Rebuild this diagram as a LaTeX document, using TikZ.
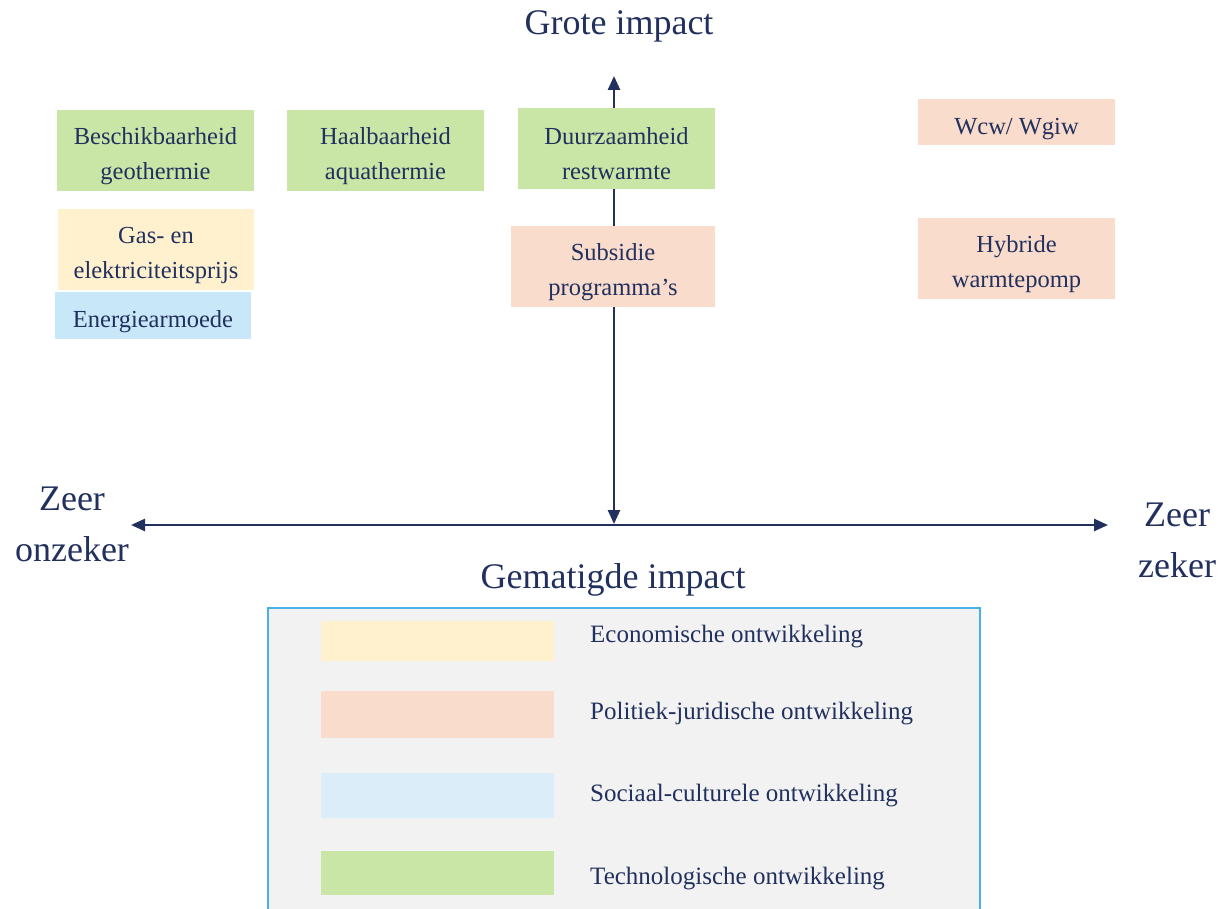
\documentclass[tikz,border=0pt]{standalone}
\usepackage{fontspec}
\setmainfont{Liberation Serif}
\usetikzlibrary{arrows.meta}
\definecolor{navy}{HTML}{22305E}
\definecolor{techgreen}{HTML}{C9E6A7}
\definecolor{econyellow}{HTML}{FFF1CE}
\definecolor{polsalmon}{HTML}{F9DCCC}
\definecolor{socblue}{HTML}{C8E7F8}
\definecolor{legblue}{HTML}{DAEDF8}
\definecolor{leggrey}{HTML}{F2F2F2}
\definecolor{legborder}{HTML}{45B3E8}
% centred text block, lowered a little inside its box
\newcommand{\boxtext}[2][11.5pt]{\raisebox{-#1}[0pt][0pt]{\parbox{190pt}{\centering #2}}}
\tikzset{
  axis/.style={draw=navy, line width=2.5pt, {Triangle[length=14pt,width=12pt]}-{Triangle[length=14pt,width=12pt]}},
  factor/.style={inner sep=0pt, text=navy, font=\fontsize{24.5}{35}\selectfont},
  heading/.style={inner sep=0pt, align=center, text=navy, font=\fontsize{36}{51}\selectfont},
  swatch/.style={inner sep=0pt, minimum width=233pt},
  legtext/.style={inner sep=0pt, anchor=west, text=navy, font=\fontsize{25}{28}\selectfont}
}
\begin{document}
\begin{tikzpicture}[x=1pt,y=-1pt]
\useasboundingbox (0,0) rectangle (1220,909);
% axes
\coordinate (top) at (614,76);
\coordinate (origin) at (614,524);
\coordinate (left) at (131,525);
\coordinate (right) at (1108,525);
\draw[axis] (left) -- (right);
\draw[axis] (origin) -- (top);
% axis labels
\node[heading] (high) at (619,26) {Grote impact};
\node[heading] (mod) at (613,580) {Gematigde impact};
\node[heading] (unsure) at (72,524) {Zeer\\onzeker};
\node[heading] (sure) at (1177,540) {Zeer\\zeker};
% factors
\node[factor, fill=techgreen, minimum width=197pt, minimum height=81pt] (geo) at (155.5,150.5) {\boxtext{Beschikbaarheid\\geothermie}};
\node[factor, fill=techgreen, minimum width=197pt, minimum height=81pt] (aqua) at (385.5,150.5) {\boxtext{Haalbaarheid\\aquathermie}};
\node[factor, fill=techgreen, minimum width=197pt, minimum height=81pt] (rest) at (616.5,148.5) {\boxtext{Duurzaamheid\\restwarmte}};
\node[factor, fill=econyellow, minimum width=196pt, minimum height=81pt] (gas) at (156,249.5) {\boxtext[12pt]{Gas- en\\elektriciteitsprijs}};
\node[factor, fill=socblue, minimum width=196pt, minimum height=47pt] (armoede) at (153,315.5) {\boxtext[12pt]{Energiearmoede}};
\node[factor, fill=polsalmon, minimum width=204pt, minimum height=81pt] (subsidie) at (613,266.5) {\boxtext{Subsidie\\programma’s}};
\node[factor, fill=polsalmon, minimum width=197pt, minimum height=46pt] (wcw) at (1016.5,122) {\boxtext[13.5pt]{Wcw/ Wgiw}};
\node[factor, fill=polsalmon, minimum width=197pt, minimum height=81pt] (hybride) at (1016.5,258.5) {\boxtext{Hybride\\warmtepomp}};
% legend frame, open at the bottom edge
\fill[leggrey] (269,609) rectangle (979,912);
\draw[legborder, line width=2pt] (268,912) -- (268,608) -- (980,608) -- (980,912);
\node[swatch, fill=econyellow, minimum height=40pt] (sw1) at (437,641) {};
\node[swatch, fill=polsalmon, minimum height=47pt] (sw2) at (437,714.5) {};
\node[swatch, fill=legblue, minimum height=45pt] (sw3) at (437,795.5) {};
\node[swatch, fill=techgreen, minimum height=44pt] (sw4) at (437,873) {};
\node[legtext] (l1) at (590,637) {Economische ontwikkeling};
\node[legtext] (l2) at (590,714) {Politiek-juridische ontwikkeling};
\node[legtext] (l3) at (590,796) {Sociaal-culturele ontwikkeling};
\node[legtext] (l4) at (590,879) {Technologische ontwikkeling};
\end{tikzpicture}
\end{document}
